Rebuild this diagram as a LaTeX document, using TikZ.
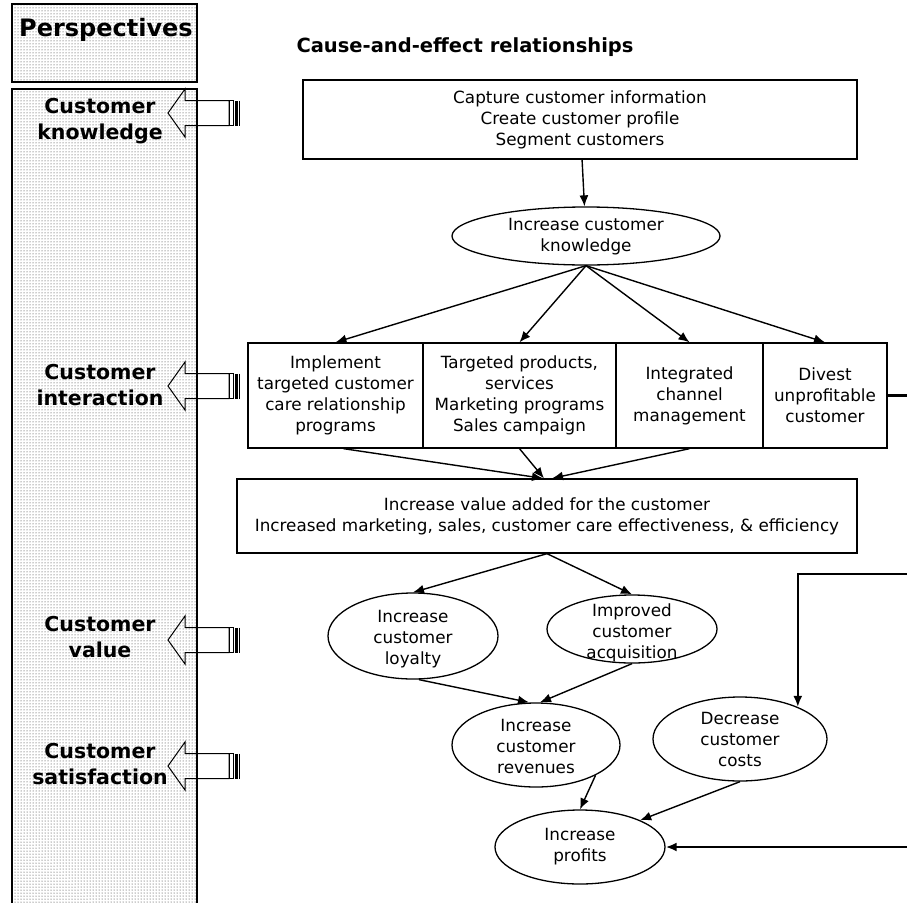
\documentclass[tikz,border=0pt]{standalone}
\usepackage{fontspec}
\setmainfont{DejaVu Sans}
\usetikzlibrary{shapes.geometric,arrows.meta,patterns}

\begin{document}
\begin{tikzpicture}[x=1pt,y=-1pt,
    >={Latex[length=11pt,width=9pt]},
    txt/.style={font=\fontsize{16.8}{21}\selectfont,align=center},
    stepbox/.style={txt,draw,line width=1.3pt,inner sep=0pt},
    goal/.style={draw,ellipse,line width=1.3pt,inner sep=0pt},
    persp/.style={font=\bfseries\fontsize{20.5}{26.5}\selectfont,align=center},
    panel/.style={pattern=dots,pattern color=black!85},
    link/.style={->,line width=1.4pt},
    loopline/.style={line width=2.4pt},
    ]
    \useasboundingbox (0,0) rectangle (907,902);

    % left column
    \fill[panel] (12,4) rectangle (197,82);
    \draw[line width=1.1pt] (12,4) rectangle (197,82);
    \fill[panel] (12,89) rectangle (197,905);
    \draw[line width=1.1pt] (12,905) -- (12,89) -- (197,89) -- (197,905);
    \node[font=\bfseries\fontsize{24}{28}\selectfont] (persp) at (106,30) {Perspectives};

    \node[persp] (lknow) at (100,121) {Customer\\knowledge};
    \node[persp] (linter) at (100,385) {Customer\\interaction};
    \node[persp] (lvalue) at (100,637) {Customer\\value};
    \node[persp] (lsatis) at (100,764) {Customer\\satisfaction};

    % block arrows
    \foreach \c in {113,386,640,766} {
        \draw[line width=1pt] (168,\c) -- (185,\c-24) -- (185,\c-12.5) -- (229,\c-12.5)
            -- (229,\c+12.5) -- (185,\c+12.5) -- (185,\c+24) -- cycle;
        \draw[line width=1pt] (229,\c-12.5) rectangle (233,\c+12.5);
        \fill (234.5,\c-12.5) rectangle (238,\c+12.5);
        \draw[line width=0.8pt] (239.5,\c-12.5) -- (239.5,\c+12.5);
    }

    % right column
    \node[font=\bfseries\fontsize{19.5}{23}\selectfont] (title) at (465,47) {Cause-and-effect relationships};

    \node[stepbox,minimum width=554pt,minimum height=79pt] (capture) at (580,119.5)
        {Capture customer information\\Create customer profile\\Segment customers};
    \node[goal,minimum width=268pt,minimum height=58pt,
        label={[txt,yshift=-1pt]center:{Increase customer\\knowledge}}] (know) at (586,236) {};

    \node[stepbox,minimum width=175pt,minimum height=105pt] (impl) at (335.5,395.5)
        {Implement\\targeted customer\\care relationship\\programs};
    \node[stepbox,minimum width=193pt,minimum height=105pt] (targ) at (519.5,395.5)
        {Targeted products,\\services\\Marketing programs\\Sales campaign};
    \node[stepbox,minimum width=147pt,minimum height=105pt] (chan) at (689.5,395.5)
        {Integrated\\channel\\management};
    \node[stepbox,minimum width=124pt,minimum height=105pt] (divest) at (825,395.5)
        {Divest\\unprofitable\\customer};

    \node[stepbox,minimum width=620pt,minimum height=74pt] (value) at (547,516)
        {Increase value added for the customer\\Increased marketing, sales, customer care effectiveness, \& efficiency};

    \node[goal,minimum width=170pt,minimum height=86pt,
        label={[txt,yshift=-3pt]center:{Increase\\customer\\loyalty}}] (loyal) at (413,636) {};
    \node[goal,minimum width=170pt,minimum height=68pt,
        label={[txt,yshift=-4pt]center:{Improved\\customer\\acquisition}}] (acq) at (632,629) {};
    \node[goal,minimum width=168pt,minimum height=84pt,
        label={[txt,yshift=-1pt]center:{Increase\\customer\\revenues}}] (rev) at (536,745) {};
    \node[goal,minimum width=174pt,minimum height=84pt,
        label={[txt]center:{Decrease\\customer\\costs}}] (cost) at (740,739) {};
    \node[goal,minimum width=170pt,minimum height=74pt,
        label={[txt]center:{Increase\\profits}}] (prof) at (580,847) {};

    \coordinate (outdiv) at (910,395.5);
    \coordinate (incost) at (910,574);
    \coordinate (inprof) at (910,847);

    % connectors
    \draw[link] (capture) -- (know);
    \draw[link] (know.south) -- (impl.north);
    \draw[link] (know.south) -- (targ.north);
    \draw[link] (know.south) -- (chan.north);
    \draw[link] (know.south) -- (divest.north);
    \draw[link] ([xshift=8pt]impl.south) -- ([xshift=-4pt]value.north);
    \draw[link] (targ.south) -- ([xshift=-3pt]value.north);
    \draw[link] (chan.south) -- ([xshift=5pt]value.north);
    \draw[link] (value.south) -- (loyal.north);
    \draw[link] (value.south) -- (acq.north);
    \draw[link] ([xshift=6pt]loyal.south) -- ([xshift=-7pt]rev.north);
    \draw[link] (acq.south) -- ([xshift=4pt]rev.north);
    \draw[link] (rev.-27) -- (prof.north);
    \draw[link] (cost.south) -- (prof.24);

    \draw[loopline] (divest.east) -- (outdiv);
    \draw[loopline,-{Latex[length=11pt,width=9pt]}] (incost) -| (cost.29);
    \draw[loopline,-{Latex[length=11pt,width=9pt]}] (inprof) -- (prof.east);
\end{tikzpicture}
\end{document}
